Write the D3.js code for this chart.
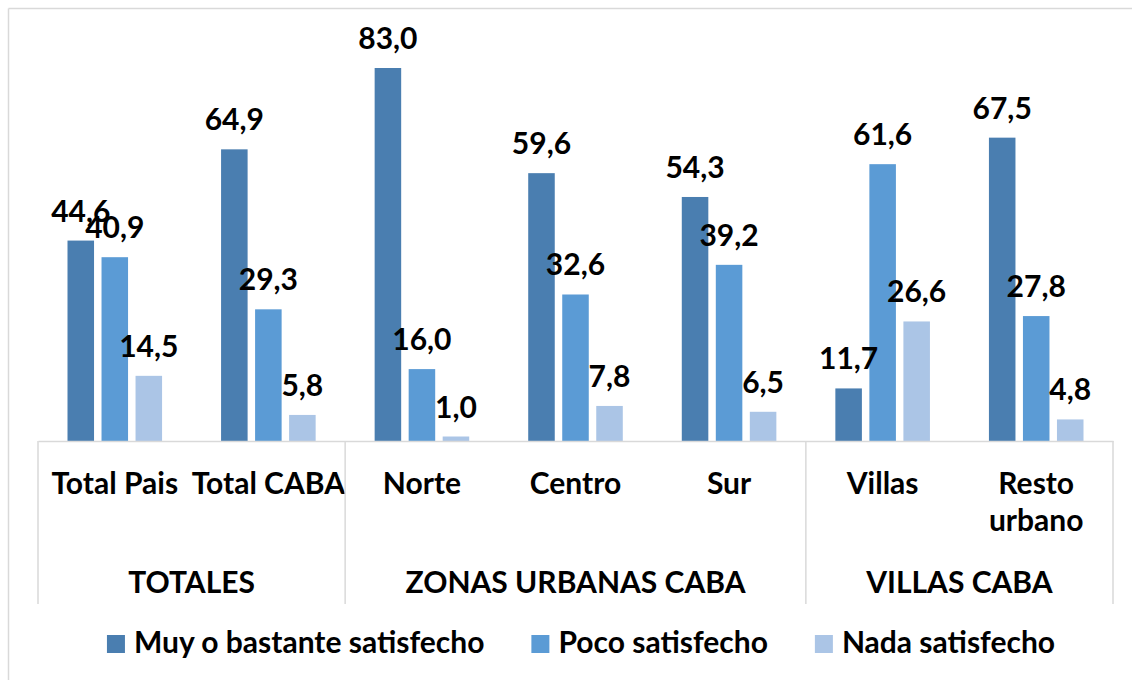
<!DOCTYPE html>
<html>
<head>
<meta charset="utf-8">
<script src="https://cdn.jsdelivr.net/npm/d3@7"></script>
<style>
  html, body { margin: 0; padding: 0; background: #fff; }
  svg { display: block; }
  text { font-family: Lato, "Open Sans", sans-serif; font-weight: 700; fill: #000; }
</style>
</head>
<body>
<svg id="chart" width="1132" height="680"></svg>
<script>
// ---- data ----
const categories = ["Total Pais", "Total CABA", "Norte", "Centro", "Sur", "Villas", "Resto urbano"];
const groups = ["TOTALES", "ZONAS URBANAS CABA", "VILLAS CABA"];
const groupSizes = [2, 3, 2];
const seriesNames = ["Muy o bastante satisfecho", "Poco satisfecho", "Nada satisfecho"];
const muySatisfecho = [44.6, 64.9, 83.0, 59.6, 54.3, 11.7, 67.5];
const pocoSatisfecho = [40.9, 29.3, 16.0, 32.6, 39.2, 61.6, 27.8];
const nadaSatisfecho = [14.5, 5.8, 1.0, 7.8, 6.5, 26.6, 4.8];
const colors = ["#4a7eb0", "#5b9bd5", "#abc5e6"];

const seriesValues = [muySatisfecho, pocoSatisfecho, nadaSatisfecho];

const svg = d3.select("#chart");
const W = 1132, H = 680;
const fontSize = 30;
const fontFam = 'Lato, "Open Sans", sans-serif';

// frame (chart area border, partially visible)
svg.append("line").attr("x1", 8.5).attr("x2", W).attr("y1", 8.5).attr("y2", 8.5)
  .attr("stroke", "#d9d9d9").attr("stroke-width", 1.5);
svg.append("line").attr("x1", 8.5).attr("x2", 8.5).attr("y1", 8.5).attr("y2", H)
  .attr("stroke", "#d9d9d9").attr("stroke-width", 1.5);

const plotLeft = 38, plotRight = 1113, baseY = 441;

const x0 = d3.scaleBand().domain(categories).range([plotLeft, plotRight]).padding(0);
const inner = x0.bandwidth();
const x1 = d3.scaleBand().domain(seriesNames).range([29.5, inner - 29.5]).paddingInner(0.22).paddingOuter(0);
const y = d3.scaleLinear().domain([0, 90]).range([baseY, baseY - 90 * (373 / 83)]);

const fmt = d3.formatLocale({ decimal: ",", thousands: ".", grouping: [3], currency: ["$", ""] }).format(".1f");

// bars
const catG = svg.append("g").selectAll("g").data(categories).join("g")
  .attr("transform", d => `translate(${x0(d)},0)`);

catG.each(function (cat, ci) {
  const g = d3.select(this);
  seriesNames.forEach((s, si) => {
    const v = seriesValues[si][ci];
    g.append("rect")
      .attr("x", x1(s)).attr("width", x1.bandwidth())
      .attr("y", y(v)).attr("height", y(0) - y(v))
      .attr("fill", colors[si]);
  });
});
// value labels
catG.each(function (cat, ci) {
  const g = d3.select(this);
  seriesNames.forEach((s, si) => {
    const v = seriesValues[si][ci];
    g.append("text")
      .attr("x", x1(s) + x1.bandwidth() / 2)
      .attr("y", y(v) - 19)
      .attr("text-anchor", "middle")
      .attr("font-size", fontSize)
      .text(fmt(v));
  });
});

// x axis
const axis = svg.append("g").attr("transform", `translate(0,${baseY})`)
  .call(d3.axisBottom(x0).tickSize(0).tickPadding(0));
axis.select(".domain").attr("stroke", "#d9d9d9").attr("stroke-width", 1.5);
axis.selectAll(".tick text").remove();
axis.selectAll(".tick").each(function (d) {
  const t = d3.select(this).append("text")
    .attr("text-anchor", "middle")
    .attr("font-size", fontSize)
    .attr("y", 53)
    .style("fill", "#000")
    .style("font-family", fontFam)
    .style("font-weight", 700);
  const words = d.split(" ");
  let lines = [], cur = [];
  const probe = t.append("tspan");
  words.forEach(w => {
    const test = cur.concat([w]).join(" ");
    probe.text(test);
    if (probe.node().getComputedTextLength() > x0.bandwidth() + 10 && cur.length) {
      lines.push(cur.join(" "));
      cur = [w];
    } else cur.push(w);
  });
  lines.push(cur.join(" "));
  probe.remove();
  lines.forEach((ln, i) => {
    t.append("tspan").attr("x", 0).attr("dy", i === 0 ? 0 : 37).text(ln);
  });
});

// group separators and labels
let idx = 0;
const bounds = [x0(categories[0])];
groupSizes.forEach(n => { idx += n; bounds.push(idx < categories.length ? x0(categories[idx]) : plotRight); });
svg.append("g").selectAll("line").data(bounds).join("line")
  .attr("x1", d => d).attr("x2", d => d)
  .attr("y1", baseY).attr("y2", 604)
  .attr("stroke", "#d9d9d9").attr("stroke-width", 1.5);
svg.append("g").selectAll("text").data(groups).join("text")
  .attr("x", (d, i) => (bounds[i] + bounds[i + 1]) / 2)
  .attr("y", 593)
  .attr("text-anchor", "middle")
  .attr("font-size", fontSize)
  .text(d => d);

// legend
const legend = svg.append("g");
const items = legend.selectAll("g").data(seriesNames).join("g");
items.append("rect").attr("width", 18).attr("height", 18).attr("y", -18)
  .attr("fill", (d, i) => colors[i]);
items.append("text").attr("x", 27).attr("y", 0).attr("font-size", fontSize).text(d => d);
let lx = 0;
items.each(function () {
  const g = d3.select(this);
  g.attr("transform", `translate(${lx},0)`);
  lx += 27 + g.select("text").node().getComputedTextLength() + 47;
});
const totalW = lx - 47;
legend.attr("transform", `translate(${581 - totalW / 2},653)`);
</script>
</body>
</html>
